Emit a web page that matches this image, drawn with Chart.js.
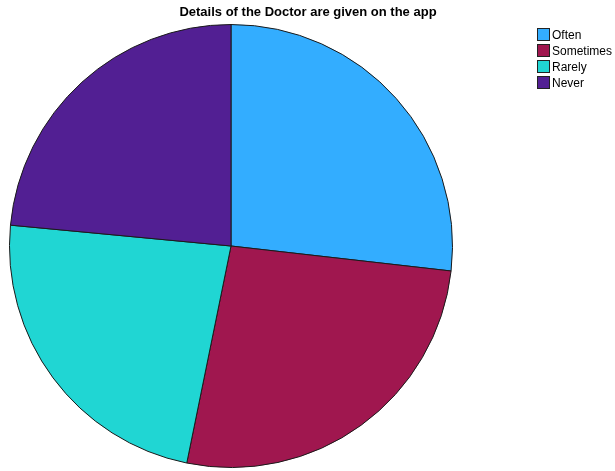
<!DOCTYPE html>
<html><head><meta charset="utf-8">
<script src="https://cdn.jsdelivr.net/npm/chart.js@4"></script>
<style>html,body{margin:0;padding:0;background:#fff;}#wrap{width:615px;height:471px;position:relative;}</style>
</head><body><div id="wrap"><canvas id="c" width="615" height="471"></canvas></div>
<script>
const titleText = "Details of the Doctor are given on the app";
const categories = ["Often", "Sometimes", "Rarely", "Never"];
const values = [26.8, 26.4, 23.3, 23.5];
const colors = ["#33adff", "#a0174f", "#20d6d3", "#521f93"];

const overlay = {
  id: 'overlay',
  afterDraw(chart) {
    const ctx = chart.ctx;
    ctx.save();
    ctx.fillStyle = '#000';
    ctx.font = 'bold 13px "Liberation Sans", Arial, sans-serif';
    ctx.textAlign = 'center';
    ctx.textBaseline = 'middle';
    ctx.fillText(titleText, 308, 12);
    ctx.font = '12px "Liberation Sans", Arial, sans-serif';
    ctx.textAlign = 'left';
    categories.forEach((c, i) => {
      const y = 34.5 + i * 16;
      ctx.fillStyle = colors[i];
      ctx.fillRect(537.5, y - 6, 12, 12);
      ctx.strokeStyle = '#222';
      ctx.lineWidth = 1;
      ctx.strokeRect(537.5, y - 6, 12, 12);
      ctx.fillStyle = '#000';
      ctx.fillText(c, 552, y + 1);
    });
    ctx.restore();
  }
};

new Chart(document.getElementById('c'), {
  type: 'pie',
  data: {
    labels: categories,
    datasets: [{ data: values, backgroundColor: colors, borderColor: '#1a1a1a', borderWidth: 1 }]
  },
  options: {
    responsive: false,
    animation: false,
    layout: { padding: { left: 9, right: 162, top: 24, bottom: 3 } },
    plugins: { legend: { display: false }, title: { display: false }, tooltip: { enabled: false } }
  },
  plugins: [overlay]
});
</script></body></html>
